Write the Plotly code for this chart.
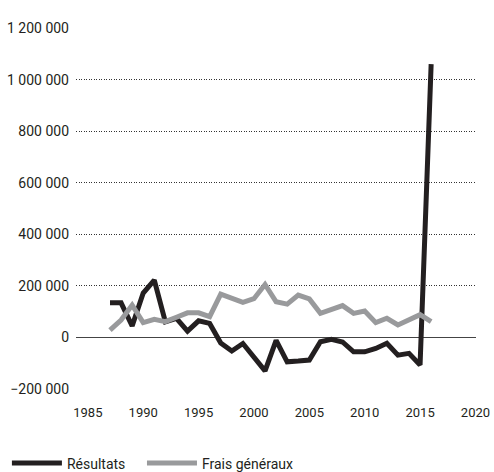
import plotly.graph_objects as go

years = list(range(1987, 2017))
resultats = [134000, 134000, 44000, 172000, 222000, 60000, 74000, 24000, 64000, 54000,
             -22000, -53000, -24000, -78000, -130000, -12000, -95000, -92000, -88000, -17000,
             -8000, -18000, -56000, -56000, -43000, -23000, -69000, -62000, -107000, 1060000]
frais = [28000, 67000, 125000, 57000, 70000, 61000, 78000, 95000, 95000, 80000,
         168000, 151000, 136000, 150000, 205000, 138000, 129000, 164000, 149000, 93000,
         110000, 123000, 93000, 102000, 57000, 74000, 48000, 69000, 88000, 61000]
x_ticks = [1985, 1990, 1995, 2000, 2005, 2010, 2015, 2020]
y_ticks = [-200000, 0, 200000, 400000, 600000, 800000, 1000000, 1200000]

FONT = "Roboto, Liberation Sans, sans-serif"

fig = go.Figure()
fig.add_trace(go.Scatter(x=years, y=resultats, mode="lines", name="Résultats",
                         line=dict(color="#231f20", width=5), legend="legend"))
fig.add_trace(go.Scatter(x=years, y=frais, mode="lines", name="Frais généraux",
                         line=dict(color="#999a9c", width=5), legend="legend2"))

leg_common = dict(orientation="h", xref="container", yref="container",
                  y=0.018, xanchor="left", yanchor="middle",
                  font=dict(size=14), itemwidth=50)

fig.update_layout(
    width=494, height=472,
    margin=dict(l=76, r=18, t=28, b=83),
    paper_bgcolor="white", plot_bgcolor="white",
    font=dict(family=FONT, size=14, color="#231f20"),
    separators=", ",
    showlegend=True,
    legend=dict(x=0.014, **leg_common),
    legend2=dict(x=0.2874, **leg_common),
    xaxis=dict(range=[1983.93, 2020.05], tickvals=x_ticks, showgrid=False,
               zeroline=False, showline=False, ticks="", ticklabelstandoff=14,
               tickfont=dict(size=13), automargin=False),
    yaxis=dict(range=[-200500, 1200500], tickvals=y_ticks, tickformat=",d",
               showgrid=True, gridcolor="#333333", gridwidth=1, griddash="1px,1.5px",
               zeroline=True, zerolinecolor="#444444", zerolinewidth=1,
               showline=False, ticks="", ticklabelstandoff=6, automargin=False),
)

fig.write_html("out.html", config={"displayModeBar": False},
               post_script="document.body.style.margin='0';document.body.style.overflow='hidden';")
